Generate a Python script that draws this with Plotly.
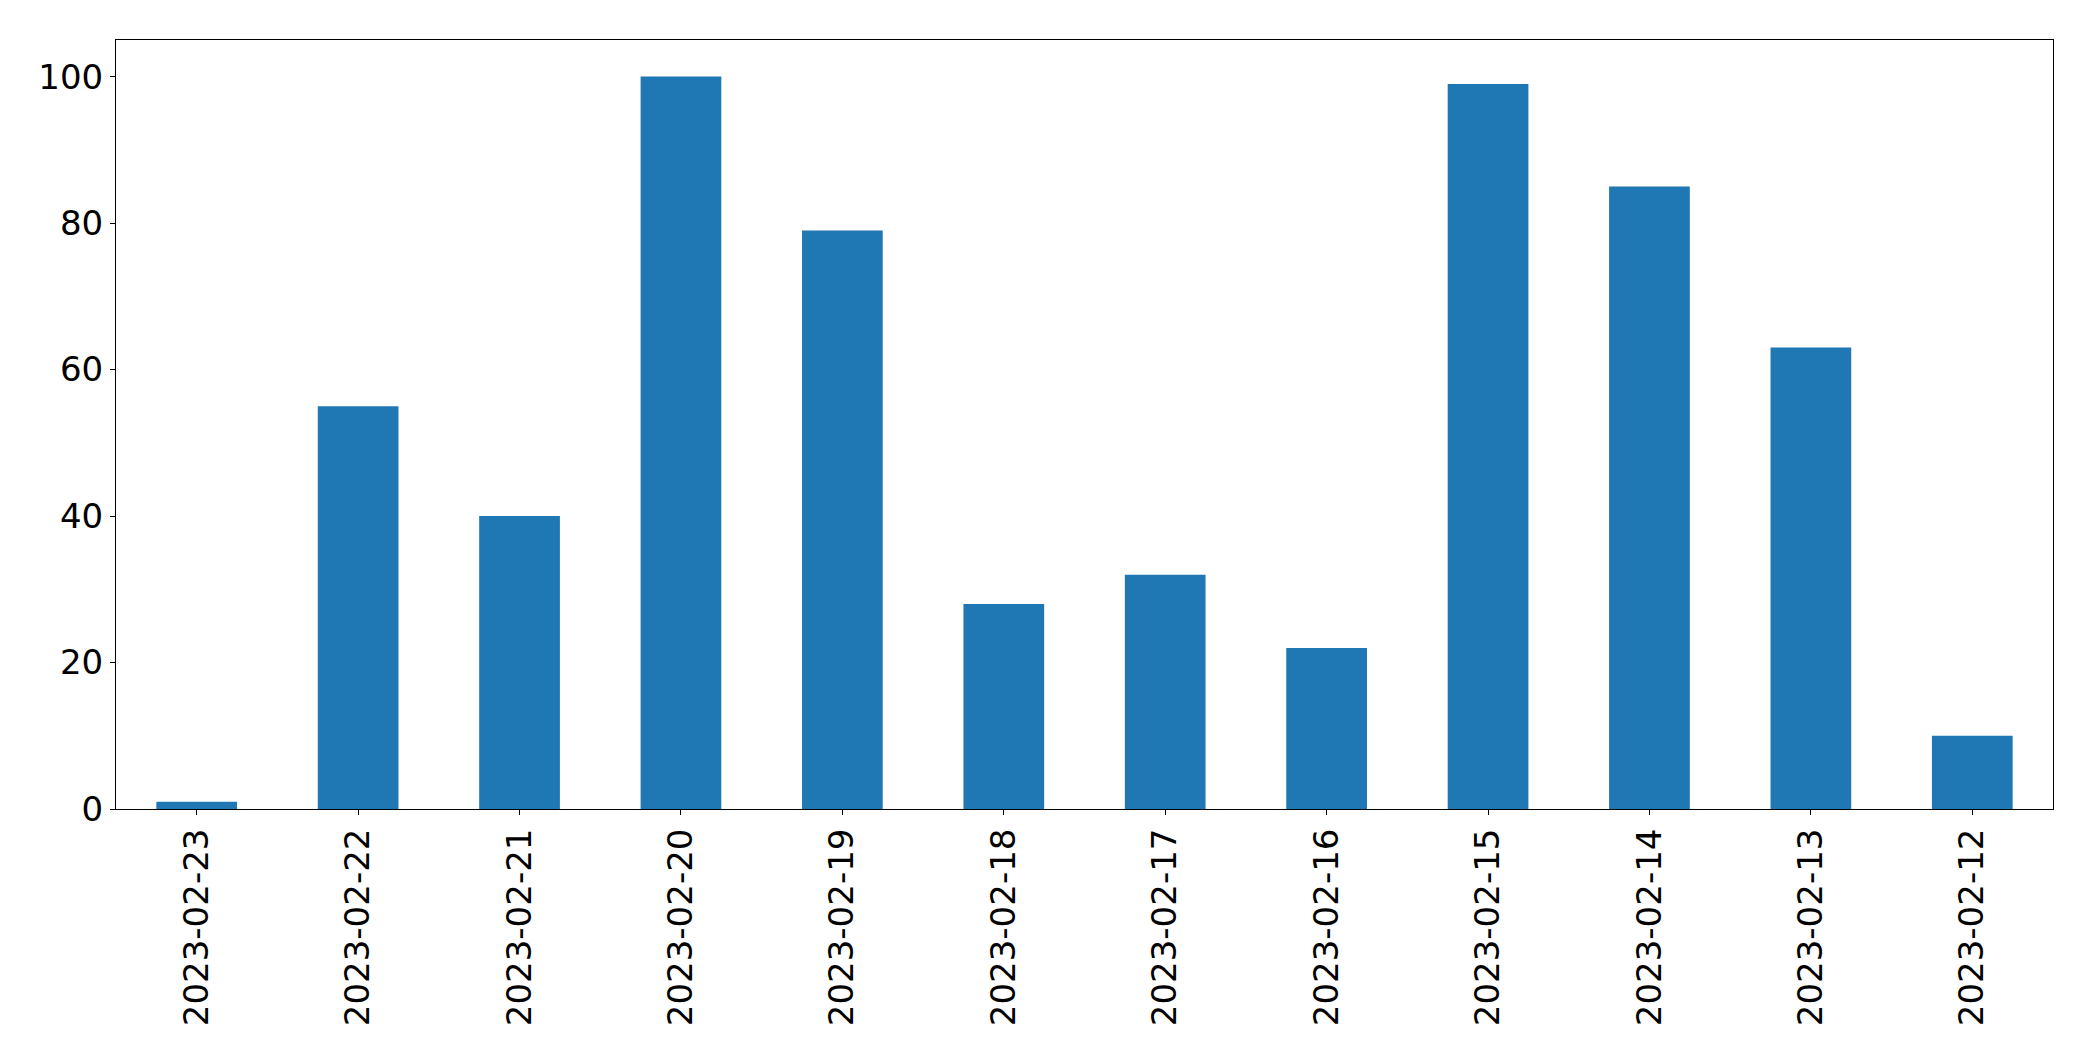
import plotly.graph_objects as go

dates = ["2023-02-23", "2023-02-22", "2023-02-21", "2023-02-20", "2023-02-19", "2023-02-18",
         "2023-02-17", "2023-02-16", "2023-02-15", "2023-02-14", "2023-02-13", "2023-02-12"]
values = [1, 55, 40, 100, 79, 28, 32, 22, 99, 85, 63, 10]
y_ticks = [0, 20, 40, 60, 80, 100]

fig = go.Figure(go.Bar(x=dates, y=values, width=0.5, marker=dict(color="#1f77b4", line=dict(width=0))))

axis_common = dict(showline=True, linecolor="black", linewidth=1, mirror=True,
                   ticks="outside", ticklen=5, tickwidth=1, tickcolor="black",
                   showgrid=False, zeroline=False)

fig.update_layout(
    width=2093, height=1061,
    margin=dict(l=116, r=40, t=40, b=252),
    plot_bgcolor="white", paper_bgcolor="white",
    font=dict(family="DejaVu Sans", size=34, color="black"),
    showlegend=False,
    xaxis=dict(type="category", range=[-0.5, 11.5], tickangle=-90, **axis_common),
    yaxis=dict(range=[0, 105], tickvals=y_ticks, ticktext=[str(v) for v in y_ticks], **axis_common),
)

fig.write_html("out.html")
